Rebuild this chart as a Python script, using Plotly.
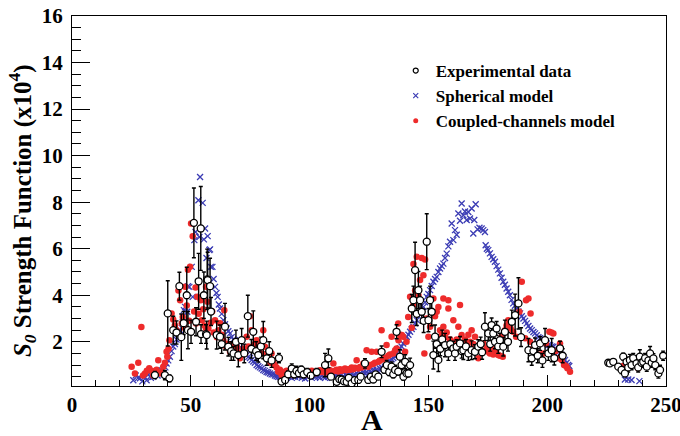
import plotly.graph_objects as go

# ---- Experimental s-wave strength function (A, S0 x10^4, uncertainty) ----
exp_A = [34.9, 39.1, 40.3, 41.0, 42.6, 44.0, 45.2, 46.0, 47.0, 48.3, 48.8, 50.1, 51.3, 52.2,
         53.3, 54.2, 54.3, 55.5, 56.4, 56.9, 57.1, 58.1, 58.5, 56.7, 60.9, 62.3, 63.0, 64.4,
         65.8, 67.0, 68.0, 69.0, 70.0, 71.4, 72.5, 74.0, 75.5, 76.3, 77.5, 78.4, 79.5, 80.5,
         82.0, 83.0, 84.0, 87.1, 88.2, 89.7, 91.0, 92.5, 93.5, 94.5, 95.5, 96.5, 97.5, 99.0,
         100.5, 103.0, 106.5, 107.9, 109.0, 111.4, 112.5, 113.5, 114.5, 115.6, 116.5, 117.7,
         119.0, 120.5, 121.5, 123.3, 124.7, 125.8, 126.8, 127.8, 128.9, 130.3, 131.5, 132.5,
         133.5, 134.5, 135.2, 136.0, 136.6, 137.3, 138.0, 138.7, 139.5, 140.2, 140.8, 141.6,
         142.3, 143.0, 143.7, 144.4, 145.1, 145.8, 146.5, 147.2, 148.0, 149.3, 150.0, 150.7,
         151.4, 152.1, 152.8, 153.5, 154.2, 155.0, 155.8, 157.0, 158.4, 159.2, 160.5, 161.2,
         161.9, 163.3, 164.0, 164.7, 165.8, 166.8, 168.2, 169.6, 171.0, 172.0, 172.6, 173.8,
         175.2, 176.0, 176.6, 177.3, 178.0, 178.7, 179.4, 180.1, 181.5, 182.2, 183.5, 185.1,
         186.5, 187.9, 189.0, 192.1, 193.5, 194.2, 194.9, 196.0, 197.0, 198.0, 199.1, 200.5,
         201.9, 203.0, 205.4, 206.5,
         225.7, 226.4, 227.8, 229.9, 231.3, 232.0, 232.7, 233.4, 234.1, 234.8, 235.5, 236.2,
         237.6, 238.3, 239.0, 239.7, 240.4, 241.2, 241.9, 242.6, 243.3, 244.0, 244.7, 245.5,
         246.8, 247.5, 248.8]
exp_S = [0.57, 0.57, 3.22, 0.43, 2.5, 2.4, 4.39, 2.2, 2.8, 4.0, 2.5, 2.43, 7.11, 2.86,
         4.6, 6.87, 2.33, 4.0, 2.33, 4.68, 4.65, 4.39, 3.3, 2.29, 2.29, 2.22, 1.9, 2.65,
         1.79, 1.6, 1.5, 2.0, 1.43, 2.07, 1.5, 3.1, 1.7, 2.43, 1.6, 1.43, 1.8, 2.07,
         1.29, 1.6, 1.2, 1.3, 0.29, 0.36, 0.6, 0.85, 0.6, 0.75, 0.65, 0.8, 0.6, 0.7,
         0.55, 0.7, 1.0, 1.29, 0.5, 0.28, 0.4, 0.38, 0.3, 0.28, 0.45, 0.21,
         0.35, 0.36, 0.5, 1.07, 0.36, 0.5, 0.38, 0.6, 0.5, 1.57, 0.8, 1.0,
         0.7, 0.93, 0.6, 0.79, 2.43, 0.72, 1.36, 1.0, 0.5, 1.14, 0.64, 0.64,
         1.0, 3.43, 3.79, 5.08, 3.2, 4.22, 3.79, 3.29, 2.9, 6.3, 2.93, 3.79,
         3.29, 1.43, 2.22, 1.9, 1.22, 1.7, 2.1, 1.86, 1.5, 1.9, 1.72, 1.5,
         1.79, 1.93, 1.6, 1.64, 1.8, 1.5, 1.64, 1.57, 1.79, 1.9, 1.55, 2.65,
         2.36, 1.9, 2.72, 2.36, 2.0, 2.57, 1.8, 2.07, 1.79, 2.43, 2.0, 2.86,
         3.15, 3.65, 2.2, 1.64, 1.29, 1.6, 1.86, 1.4, 1.93, 1.2, 2.07, 1.5,
         1.64, 1.3, 1.72, 1.4,
         1.1, 1.07, 1.14, 0.93, 0.79, 1.36, 0.64, 1.14, 0.9, 1.21, 1.0, 1.3,
         1.07, 0.9, 1.36, 1.1, 1.14, 1.3, 0.93, 1.2, 1.5, 1.1, 1.29, 1.0,
         0.64, 0.79, 1.4]
exp_err = [0.15, 0.2, 1.4, 0.15, 0.6, 0.5, 0.6, 1.0, 0.5, 1.2, 0.8, 0.5, 1.5, 0.6,
           1.2, 1.8, 0.4, 1.0, 0.4, 1.3, 1.2, 1.2, 0.6, 0.6, 0.6, 0.5, 0.4, 1.0,
           0.4, 0.4, 0.3, 0.5, 0.5, 0.5, 0.4, 0.9, 0.4, 0.9, 0.4, 0.3, 0.4, 0.8,
           0.3, 0.4, 0.3, 0.2, 0.1, 0.1, 0.15, 0.2, 0.15, 0.2, 0.15, 0.15, 0.15, 0.15,
           0.1, 0.15, 0.5, 0.4, 0.1, 0.1, 0.1, 0.1, 0.1, 0.1, 0.1, 0.1,
           0.1, 0.1, 0.1, 0.2, 0.1, 0.1, 0.1, 0.1, 0.1, 0.25, 0.15, 0.2,
           0.15, 0.2, 0.15, 0.2, 0.3, 0.15, 0.3, 0.2, 0.15, 0.3, 0.15, 0.15,
           0.3, 0.6, 0.6, 1.2, 0.5, 0.8, 0.6, 0.5, 0.5, 1.2, 0.5, 0.6,
           0.6, 0.6, 0.5, 0.4, 0.5, 0.3, 0.4, 0.5, 0.3, 0.3, 0.3, 0.3,
           0.3, 0.3, 0.3, 0.4, 0.3, 0.3, 0.4, 0.3, 0.3, 0.3, 0.3, 0.6,
           0.3, 0.3, 0.3, 0.3, 0.3, 0.3, 0.3, 0.3, 0.4, 0.5, 0.4, 0.5,
           0.9, 1.1, 0.4, 0.5, 0.3, 0.3, 0.3, 0.3, 0.3, 0.3, 0.5, 0.3,
           0.5, 0.3, 0.3, 0.3,
           0.1, 0.1, 0.1, 0.1, 0.15, 0.15, 0.15, 0.2, 0.2, 0.25, 0.2, 0.2,
           0.2, 0.2, 0.3, 0.2, 0.2, 0.2, 0.2, 0.2, 0.3, 0.2, 0.2, 0.2,
           0.2, 0.2, 0.2]

# ---- Spherical optical-model calculation ----
sph_A = [25.8, 26.8, 27.8, 28.6, 29.6, 30.5, 31.4, 32.3, 33.2, 34.2, 35.1, 36.0, 36.9, 37.7,
         38.6, 39.3, 39.8, 40.5, 41.2, 41.9, 42.6, 43.3, 44.0, 44.8, 45.5, 46.2, 46.6, 47.1,
         47.6, 48.5, 48.8, 49.4, 50.4, 50.8, 51.5, 52.0, 53.2, 53.6, 53.9, 55.0, 55.5, 56.0,
         56.6, 57.1, 57.8, 58.1, 58.4, 59.1, 59.6, 60.2, 60.8, 61.3, 61.8, 62.3, 63.0, 63.7,
         64.4, 65.1, 65.8, 66.5, 67.2, 67.9, 68.6, 69.3, 70.0, 70.7, 71.4, 72.1, 72.8, 73.5,
         74.2, 74.9, 75.6, 76.3, 77.0, 77.7, 78.4, 79.1, 79.8, 80.5, 81.2, 81.9, 82.6, 83.3,
         84.0, 84.7, 85.4, 86.1, 86.8, 87.5, 88.3, 89.0, 89.7, 90.4, 91.1, 91.8, 92.5, 93.2,
         93.9, 94.6, 95.3, 96.0, 96.7, 97.4, 98.1, 98.8, 99.5, 100.2, 100.9, 101.6, 102.3,
         103.0, 103.7, 104.4, 105.1, 105.8, 106.5, 107.2, 107.9, 108.6, 109.3, 110.0, 110.7,
         111.4, 112.1, 112.8, 113.5, 114.2, 114.9, 115.6, 116.3, 117.0, 117.7, 118.4, 119.1,
         119.8, 120.5, 121.2, 121.9, 122.6, 123.3, 124.0, 124.7, 125.4, 126.1, 126.8, 127.5,
         128.2, 128.9, 129.6, 130.3, 131.0, 131.7, 132.4, 133.1, 133.8, 134.5, 135.2, 136.0,
         136.6, 137.3, 138.0, 138.7, 139.4, 140.2, 140.9, 141.6, 142.3, 143.0, 143.7, 144.4,
         145.1, 145.8, 146.5, 147.2, 147.9, 148.6, 149.3, 150.0, 150.7, 151.4, 152.1, 152.8,
         153.5, 154.2, 154.9, 155.6, 156.3, 157.0, 157.7, 158.4, 159.1, 159.8, 160.5, 161.2,
         161.9, 162.6, 163.3, 164.0, 164.7, 165.4, 166.1, 166.8, 167.5, 168.2, 168.9, 169.3,
         169.9, 170.7, 171.5, 172.4, 173.1, 173.8, 174.1, 174.6, 175.2, 175.9, 176.6, 177.3,
         178.0, 178.7, 179.4, 180.1, 180.8, 181.5, 182.2, 182.9, 183.6, 184.3, 185.0, 185.7,
         186.4, 187.2, 187.9, 188.6, 189.3, 190.0, 190.7, 191.4, 192.1, 192.8, 193.5, 194.2,
         194.9, 195.6, 196.3, 197.0, 197.7, 198.4, 199.1, 199.8, 200.5, 201.2, 201.9, 202.6,
         203.3, 204.0, 204.7, 205.4, 206.1, 206.8, 207.5, 208.2, 208.8, 209.3,
         232.7, 234.1, 235.5, 238.8]
sph_S = [0.35, 0.55, 0.45, 0.43, 0.3, 0.5, 0.35, 0.6, 0.45, 0.5, 0.65, 0.55, 0.7, 0.78,
         0.6, 0.9, 1.07, 1.2, 1.36, 1.6, 1.8, 1.9, 2.1, 2.36, 2.5, 2.6, 3.07, 3.36,
         3.5, 3.29, 4.39, 4.36, 5.22, 3.93, 6.37, 6.72, 8.08, 6.5, 9.08, 7.97, 6.4, 6.87,
         5.6, 6.54, 5.94, 5.97, 5.22, 5.22, 4.7, 4.36, 4.1, 3.93, 3.6, 3.43, 3.2, 2.93,
         2.75, 2.57, 2.45, 2.36, 2.2, 2.1, 2.07, 1.95, 1.86, 1.75, 1.64, 1.55, 1.5, 1.43,
         1.35, 1.3, 1.22, 1.15, 1.1, 1.0, 0.95, 0.9, 0.85, 0.79, 0.75, 0.7, 0.68, 0.64,
         0.6, 0.6, 0.55, 0.52, 0.5, 0.48, 0.45, 0.5, 0.45, 0.55, 0.5, 0.55, 0.45, 0.55,
         0.5, 0.6, 0.5, 0.55, 0.45, 0.6, 0.42, 0.55, 0.5, 0.6, 0.45, 0.55, 0.5,
         0.55, 0.5, 0.45, 0.55, 0.5, 0.45, 0.55, 0.5, 0.6, 0.45, 0.55, 0.5,
         0.6, 0.5, 0.55, 0.6, 0.5, 0.6, 0.55, 0.6, 0.5, 0.65, 0.55, 0.6,
         0.65, 0.55, 0.65, 0.6, 0.7, 0.65, 0.7, 0.6, 0.75, 0.7, 0.8, 0.75,
         0.8, 0.71, 0.85, 0.9, 0.85, 0.93, 1.05, 1.1, 1.2, 1.25, 1.3, 1.36,
         1.5, 1.6, 1.72, 1.8, 1.93, 2.05, 2.22, 2.3, 2.43, 2.55, 2.64, 2.8,
         2.93, 3.1, 3.22, 3.35, 3.5, 3.7, 3.93, 4.05, 4.22, 4.4, 4.58, 4.7,
         4.79, 5.0, 5.15, 5.25, 5.36, 5.6, 5.79, 6.1, 6.3, 7.08, 6.37, 6.8,
         6.6, 7.51, 7.2, 7.94, 7.44, 7.6, 7.23, 7.58, 7.3, 7.73, 6.65, 7.23,
         7.91, 6.83, 6.9, 6.87, 6.8, 6.72, 6.15, 6.0, 5.94, 5.8, 5.65, 5.55,
         5.44, 5.25, 5.1, 4.94, 4.75, 4.58, 4.45, 4.29, 4.15, 4.0, 3.8, 3.65,
         3.55, 3.43, 3.3, 3.22, 3.1, 3.0, 2.9, 2.79, 2.68, 2.57, 2.5, 2.42,
         2.36, 2.28, 2.2, 2.15, 2.1, 2.05, 2.0, 1.93, 1.86, 1.85, 1.8, 1.79,
         1.72, 1.64, 1.55, 1.5, 1.43, 1.33, 1.22, 1.1, 1.0, 0.96,
         0.38, 0.38, 0.36, 0.31]

# ---- Coupled-channels calculation ----
cc_A = [25.1, 26.5, 27.9, 29.2, 29.9, 30.7, 31.5, 32.5, 33.5, 34.2, 34.9, 35.6, 36.3, 36.9,
        37.6, 38.4, 39.1, 39.8, 40.1, 40.6, 41.0, 41.9, 42.6, 43.3, 44.0, 44.8, 45.5, 46.2,
        46.6, 47.3, 47.6, 48.3, 48.8, 49.3, 49.7, 50.1, 50.8, 51.4, 52.0, 52.2, 52.7, 53.3,
        54.2, 54.6, 55.2, 55.8, 56.4, 56.4, 57.0, 57.4, 58.4, 59.0, 59.6, 60.2, 61.0, 61.6,
        62.3, 63.0, 63.7, 64.1, 64.8, 65.5, 66.5, 67.2, 68.0, 68.6, 69.3, 70.0, 70.7, 71.4,
        72.1, 72.8, 73.5, 74.2, 74.9, 75.6, 76.3, 77.0, 77.7, 78.4, 79.1, 79.8, 80.5, 81.2,
        82.0, 82.8, 83.5, 84.0, 84.7, 85.4, 86.1, 86.8, 87.5, 88.2, 88.9, 89.6, 90.3, 91.0,
        91.7, 92.5, 93.2, 93.9, 94.6, 95.3, 96.0, 96.7, 97.4, 98.1, 98.8, 99.5, 100.2, 100.9,
        101.6, 102.3, 103.0, 103.7, 104.4, 105.1, 105.8, 106.5, 107.2, 107.9, 108.6, 109.3,
        110.0, 110.7, 111.4, 112.1, 112.8, 113.5, 114.2, 114.9, 115.6, 116.3, 117.0, 117.7,
        118.4, 119.1, 119.8, 120.5, 121.2, 121.9, 122.6, 123.3, 124.0, 124.7, 125.4, 126.1,
        126.8, 127.5, 128.2, 129.0, 129.6, 130.3, 131.0, 131.7, 132.4, 133.1, 133.8, 134.5,
        135.2, 136.0, 136.6, 137.3, 137.4, 138.1, 138.8, 139.4, 140.2, 140.8, 141.5, 142.3,
        143.0, 143.7, 143.7, 144.4, 145.1, 145.8, 146.5, 147.2, 147.9, 148.3, 148.6, 149.3,
        150.0, 150.7, 151.4, 152.1, 152.8, 153.5, 154.2, 154.9, 155.6, 156.3, 156.3, 157.0,
        157.7, 158.4, 158.4, 159.1, 159.8, 160.5, 161.2, 161.9, 162.6, 163.3, 164.0, 164.7,
        165.4, 166.1, 166.8, 167.5, 168.2, 168.9, 169.6, 170.3, 171.0, 171.7, 172.4, 173.1,
        173.8, 174.5, 175.2, 175.9, 176.6, 177.3, 178.0, 178.7, 179.4, 180.1, 180.8, 181.3,
        182.2, 182.9, 183.6, 184.6, 185.7, 186.9, 188.3, 189.3, 190.7, 191.1, 192.1, 192.8,
        193.0, 193.9, 194.9, 195.8, 196.7, 197.6, 198.4, 199.5, 200.9, 201.8, 202.6, 203.5,
        204.7, 205.4, 206.1, 207.1, 208.0, 208.5, 209.6,
        232.0, 233.4, 234.8, 236.2, 238.3]
cc_S = [0.93, 0.64, 1.1, 2.64, 0.55, 0.64, 0.75, 0.86, 0.75, 0.55, 0.71, 0.8, 1.21, 0.64,
        0.7, 0.93, 1.1, 1.57, 1.36, 1.7, 2.07, 3.22, 2.96, 2.7, 2.5, 4.2, 3.79, 2.8,
        3.07, 2.6, 4.36, 3.56, 5.1, 2.9, 5.22, 7.08, 6.54, 3.3, 4.33, 2.79, 3.93, 3.2,
        3.79, 2.93, 3.4, 2.7, 4.36, 2.57, 3.72, 2.57, 2.82, 3.3, 2.4, 2.93, 2.2, 2.5,
        2.8, 2.3, 2.07, 3.36, 1.8, 1.9, 1.57, 1.86, 1.6, 1.75, 1.79, 1.55, 1.29, 1.43,
        1.7, 1.5, 2.22, 1.8, 3.1, 2.5, 1.72, 1.9, 2.07, 1.6, 1.93, 1.5, 2.5, 1.79,
        1.5, 1.3, 1.1, 1.5, 1.2, 1.0, 0.9, 0.71, 0.8, 0.57, 0.7, 0.6, 0.75, 0.64,
        0.7, 0.71, 0.57, 0.7, 0.65, 0.75, 0.6, 0.72, 0.65, 0.7, 0.6, 0.72, 0.65, 0.75,
        0.7, 0.65, 0.72, 0.7, 0.78, 0.7, 0.75, 0.68, 0.8, 0.72, 0.78, 0.7,
        1.07, 0.75, 0.8, 0.72, 0.82, 0.75, 0.8, 0.85, 0.78, 0.82, 0.8, 0.9,
        0.82, 0.88, 1.21, 0.85, 0.92, 0.9, 1.07, 0.95, 1.64, 0.93, 1.0, 1.57,
        1.05, 1.1, 1.57, 1.14, 1.2, 2.5, 1.25, 1.3, 1.86, 1.4, 1.45, 2.22,
        1.5, 1.64, 1.71, 2.79, 2.07, 2.3, 2.29, 2.22, 1.57, 2.0, 3.07, 3.93,
        2.6, 5.34, 3.58, 4.2, 5.65, 4.0, 4.65, 5.6, 4.86, 1.5, 5.54, 3.0,
        2.22, 2.65, 3.3, 3.86, 3.1, 3.29, 3.5, 2.5, 2.3, 3.86, 2.65, 2.2,
        2.4, 3.79, 3.43, 2.1, 2.0, 2.93, 1.86, 2.1, 2.65, 3.58, 2.29, 1.93,
        2.1, 2.0, 2.3, 2.0, 2.5, 1.9, 2.22, 1.79, 1.29, 1.7, 1.6, 1.93,
        1.6, 1.71, 1.57, 1.5, 1.79, 1.45, 1.57, 1.5, 1.43, 1.4, 2.22, 1.36,
        2.5, 2.7, 2.93, 2.57, 2.43, 2.22, 3.29, 4.58, 2.15, 3.79, 3.86, 2.0,
        3.22, 1.7, 1.5, 1.45, 1.43, 1.45, 1.5, 1.93, 2.43, 2.4, 2.36, 1.6,
        1.29, 1.93, 1.22, 1.0, 0.95, 0.86, 0.71,
        0.96, 1.0, 1.07, 1.1, 0.86]

SERIF = "Liberation Serif"
BLUE = "#3b3cb4"
RED = "#ee2b2b"

sph_marker = dict(symbol="x-thin", size=6, line=dict(color=BLUE, width=1.3), color=BLUE)
cc_marker = dict(symbol="circle", size=6.5, color=RED, line=dict(width=0))
exp_marker = dict(symbol="circle", size=7, color="white", line=dict(color="black", width=1.3))

fig = go.Figure()

fig.add_trace(go.Scatter(x=sph_A, y=sph_S, mode="markers", showlegend=False,
                         marker=sph_marker))
fig.add_trace(go.Scatter(x=cc_A, y=cc_S, mode="markers", showlegend=False,
                         marker=cc_marker))
fig.add_trace(go.Scatter(
    x=exp_A, y=exp_S, mode="markers", showlegend=False,
    error_y=dict(type="data", array=exp_err, visible=True, color="black",
                 thickness=1.4, width=2),
    marker=exp_marker,
))

# legend entries with small key symbols
legend_keys = [
    ("Experimental data", dict(symbol="circle", size=5, color="white",
                               line=dict(color="black", width=1.2))),
    ("Spherical model", dict(symbol="x-thin", size=5, color=BLUE,
                             line=dict(color=BLUE, width=1.2))),
    ("Coupled-channels model", dict(symbol="circle", size=5, color=RED, line=dict(width=0))),
]
for label, mk in legend_keys:
    fig.add_trace(go.Scatter(x=[None], y=[None], mode="markers", name=label, marker=mk))

axis_common = dict(
    showline=True, linecolor="black", linewidth=1.3, mirror=True,
    ticks="inside", tickcolor="black", tickwidth=1.2,
    showgrid=False, zeroline=False, automargin=False, ticklabeloverflow="allow",
    tickfont=dict(family=SERIF, size=21, color="black", weight="bold"),
)

fig.update_xaxes(
    range=[0, 250], tick0=0, dtick=50, ticklen=11,
    minor=dict(dtick=10, ticklen=6, ticks="inside", tickcolor="black", tickwidth=1.2),
    **axis_common,
)
fig.update_yaxes(
    range=[0.1, 16], tick0=0, dtick=2, ticklen=18,
    minor=dict(dtick=0.5, ticklen=9, ticks="inside", tickcolor="black", tickwidth=1.2),
    ticklabelstandoff=4,
    **axis_common,
)

fig.update_layout(
    width=680, height=436,
    margin=dict(l=72, r=14, t=16, b=50, autoexpand=False),
    paper_bgcolor="white", plot_bgcolor="white",
    showlegend=True,
    legend=dict(
        x=0.545, y=0.9, xanchor="left", yanchor="top",
        bgcolor="rgba(0,0,0,0)", borderwidth=0,
        font=dict(family=SERIF, size=17, color="black", weight="bold"),
        tracegroupgap=0, itemsizing="trace",
    ),
    annotations=[
        dict(text="<b><i>S<sub>0</sub></i> Strength Function (x10<sup>4</sup>)</b>",
             xref="paper", yref="paper", x=-0.084, y=0.473,
             xanchor="center", yanchor="middle", textangle=-90, showarrow=False,
             font=dict(family=SERIF, size=25, color="black")),
        dict(text="<b>A</b>", xref="paper", yref="paper", x=0.505, y=-0.09,
             xanchor="center", yanchor="middle", showarrow=False,
             font=dict(family=SERIF, size=30, color="black")),
    ],
)

fig.write_html("out.html")
